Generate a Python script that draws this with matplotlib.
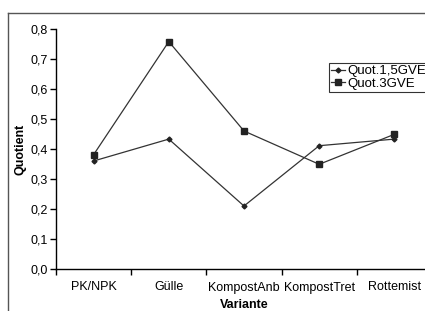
import matplotlib
matplotlib.use("Agg")
import matplotlib.pyplot as plt
from matplotlib.lines import Line2D
from matplotlib.ticker import FixedLocator, FuncFormatter

plt.rcParams['font.family'] = ['Liberation Sans', 'DejaVu Sans']
plt.rcParams['font.size'] = 9

varianten = ['PK/NPK', 'Gülle', 'KompostAnb', 'KompostTret', 'Rottemist']
quot_15 = [0.36, 0.433, 0.21, 0.411, 0.433]
quot_3 = [0.381, 0.758, 0.46, 0.349, 0.449]
yticks = [0.0, 0.1, 0.2, 0.3, 0.4, 0.5, 0.6, 0.7, 0.8]

fig = plt.figure(figsize=(4.25, 3.11), dpi=100)

# outer chart-area frame (only top and left edges visible)
fx, fy = 7.5 / 425, 1 - 12.5 / 311
fig.add_artist(Line2D([fx, 1.0], [fy, fy], transform=fig.transFigure,
                      color='#555555', lw=1.0))
fig.add_artist(Line2D([fx, fx], [0.0, fy], transform=fig.transFigure,
                      color='#555555', lw=1.0))

ax = fig.add_axes([56 / 425, 42 / 311, 376 / 425, 240 / 311])
x = list(range(len(varianten)))
ax.plot(x, quot_15, color='#333333', lw=0.9, marker='D', ms=2.5,
        mfc='#222222', mec='#222222', label='Quot.1,5GVE')
ax.plot(x, quot_3, color='#333333', lw=0.9, marker='s', ms=4,
        mfc='#222222', mec='#222222', label='Quot.3GVE')

ax.set_xlim(-0.5, len(varianten) - 0.5)
ax.set_ylim(0, 0.8)
ax.set_yticks(yticks)
ax.yaxis.set_major_formatter(FuncFormatter(lambda v, p: f'{v:.1f}'.replace('.', ',')))
ax.set_xticks(x)
ax.set_xticklabels(varianten)
ax.xaxis.set_minor_locator(FixedLocator([i - 0.5 for i in range(len(varianten) + 1)]))
ax.tick_params(axis='x', which='major', length=0, pad=9)
ax.tick_params(axis='x', which='minor', length=4, direction='out', width=1)
ax.tick_params(axis='y', length=4, direction='out', width=1, pad=2)

for s in ['top', 'right']:
    ax.spines[s].set_visible(False)
for s in ['left', 'bottom']:
    ax.spines[s].set_linewidth(1.0)
    ax.spines[s].set_color('black')
ax.spines['bottom'].set_clip_on(False)

ax.set_xlabel('Variante', fontweight='bold', labelpad=4)
ax.set_ylabel('Quotient', fontweight='bold', labelpad=3)

leg = ax.legend(loc='upper left', bbox_to_anchor=(329 / 425, 1 - 63 / 311),
                bbox_transform=fig.transFigure, frameon=True, fancybox=False,
                handlelength=1.1, handletextpad=0.15, borderpad=0.15,
                labelspacing=0.05, borderaxespad=0, fontsize=9.5)
leg.get_frame().set_edgecolor('black')
leg.get_frame().set_linewidth(0.8)

fig.savefig('out.png', dpi=100)
